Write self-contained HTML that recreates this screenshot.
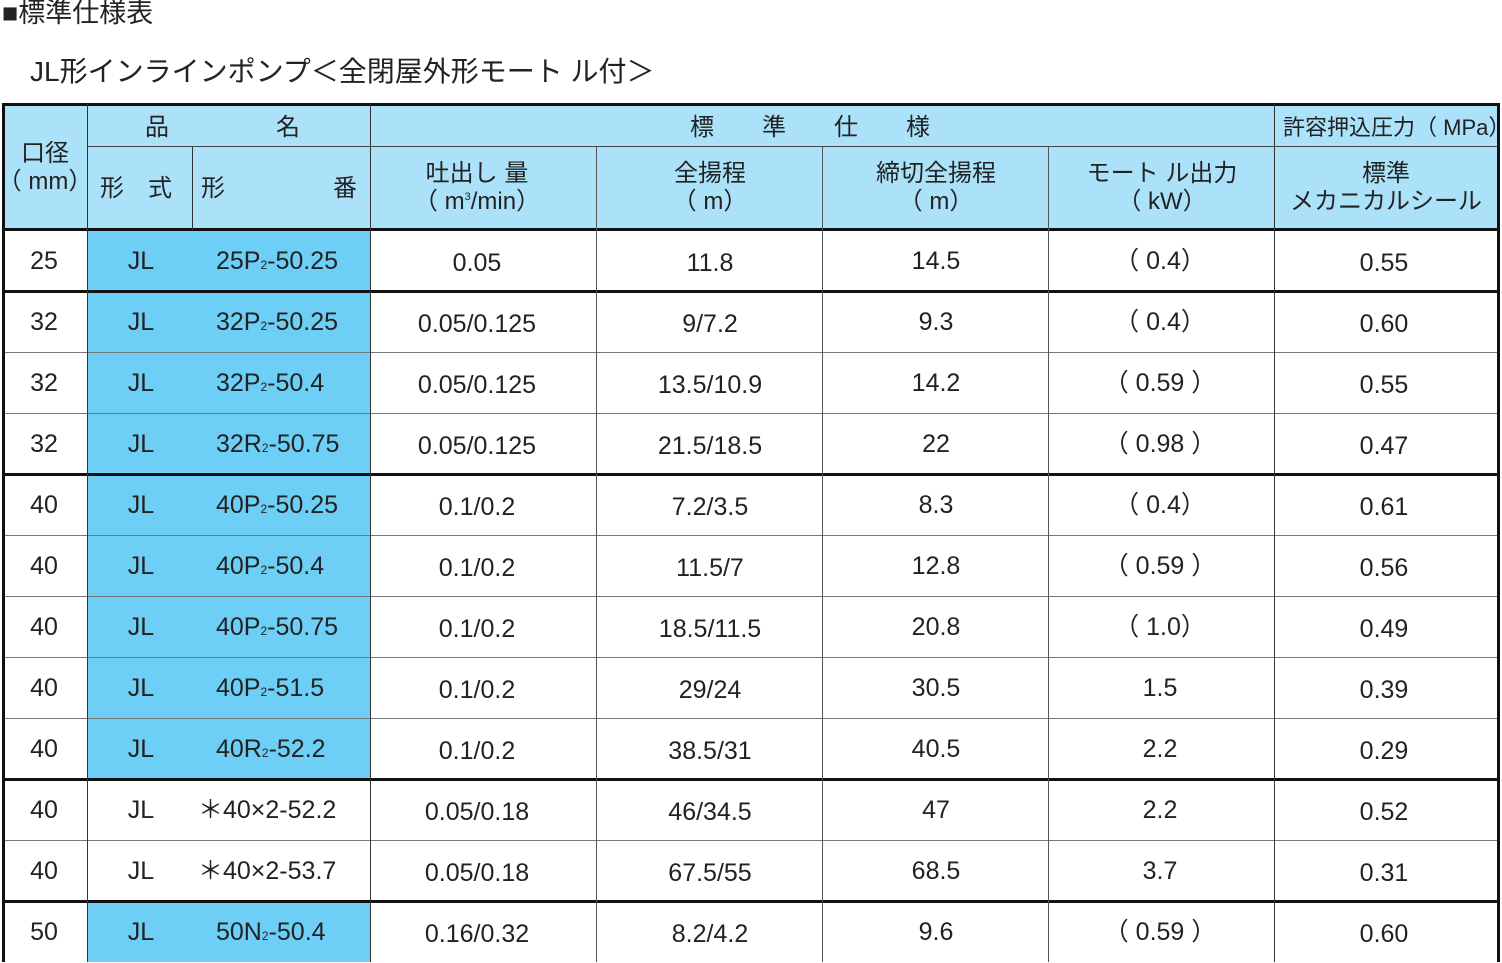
<!DOCTYPE html>
<html><head><meta charset="utf-8"><style>
body{margin:0;width:1502px;height:963px;background:#fff;position:relative;overflow:hidden;font-family:"Liberation Sans Narrow","Liberation Sans","Noto Sans CJK JP",sans-serif;color:#222}
.a{position:absolute;box-sizing:border-box}
.t{position:absolute;white-space:nowrap;font-size:25px;line-height:1}
.h{font-family:"Liberation Sans","Noto Sans CJK JP",sans-serif;font-size:24px}
.vl{position:absolute;background:#555;width:1px}
.hl{position:absolute;background:#777;height:1px}
.thick{background:#111;height:3px}
sub{font-size:12px;vertical-align:baseline}
</style></head><body>
<div class="t h" style="left:2px;top:0px;font-size:27px">■標準仕様表</div>
<div class="t h" style="left:30px;top:58px;font-size:28px">JL形インラインポンプ＜全閉屋外形モート ル付＞</div>
<div class="a" style="left:2px;top:104px;width:1497px;height:126px;background:#abe1f9"></div>
<div id="tbl"></div>
<script>
const bores=["25","32","32","32","40","40","40","40","40","40","40","50"];
const types=["JL","JL","JL","JL","JL","JL","JL","JL","JL","JL","JL","JL"];
const models=["25P<sub>2</sub>-50.25","32P<sub>2</sub>-50.25","32P<sub>2</sub>-50.4","32R<sub>2</sub>-50.75","40P<sub>2</sub>-50.25","40P<sub>2</sub>-50.4","40P<sub>2</sub>-50.75","40P<sub>2</sub>-51.5","40R<sub>2</sub>-52.2","＊40×2-52.2","＊40×2-53.7","50N<sub>2</sub>-50.4"];
const flows=["0.05","0.05/0.125","0.05/0.125","0.05/0.125","0.1/0.2","0.1/0.2","0.1/0.2","0.1/0.2","0.1/0.2","0.05/0.18","0.05/0.18","0.16/0.32"];
const heads=["11.8","9/7.2","13.5/10.9","21.5/18.5","7.2/3.5","11.5/7","18.5/11.5","29/24","38.5/31","46/34.5","67.5/55","8.2/4.2"];
const shutoff=["14.5","9.3","14.2","22","8.3","12.8","20.8","30.5","40.5","47","68.5","9.6"];
const motor=["（ 0.4）","（ 0.4）","（ 0.59 ）","（ 0.98 ）","（ 0.4）","（ 0.59 ）","（ 1.0）","1.5","2.2","2.2","3.7","（ 0.59 ）"];
const pressure=["0.55","0.60","0.55","0.47","0.61","0.56","0.49","0.39","0.29","0.52","0.31","0.60"];
const blue=[1,1,1,1,1,1,1,1,1,0,0,1];
const thickAfter=[0,3,8,10];
const T=document.getElementById('tbl');
function add(cls,style,html,name){const d=document.createElement('div');d.className=cls;d.style.cssText=style;if(html!==undefined)d.innerHTML=html;


T.appendChild(d);return d;}
const top0=230,rh=61;
// header text
function ht(x,y,txt,name,fs){add('t h','left:'+x+'px;top:'+y+'px;transform:translateX(-50%);text-align:center;'+(fs?'font-size:'+fs+'px;':''),txt,name);}
ht(45,142,'口径','header-bore');ht(45,170,'（ mm）','header-bore-unit');
add('t h','left:145px;top:116px','品','header-name');add('t h','left:276px;top:116px','名','header-name2');
add('t h','left:100px;top:177px','形　式','header-type');add('t h','left:201px;top:177px','形','header-model');add('t h','left:333px;top:177px','番','header-model2');
add('t h','left:690px;top:116px;letter-spacing:0','標　　準　　仕　　様','header-spec');
add('t h','left:1283px;top:117px;font-size:22px','許容押込圧力（ MPa）','header-pressure');
ht(477,162,'吐出し 量','header-flow');ht(477,190,'（ m<sup style="font-size:11px">3</sup>/min）','header-flow-unit');
ht(710,162,'全揚程','header-head');ht(710,190,'（ m）','header-head-unit');
ht(936,162,'締切全揚程','header-shutoff');ht(936,190,'（ m）','header-shutoff-unit');
ht(1162,162,'モート ル出力','header-motor');ht(1162,190,'（ kW）','header-motor-unit');
ht(1386,162,'標準','header-seal');ht(1386,190,'メカニカルシール','header-seal2');
const cx=[477,710,936,1160,1384];
for(let i=0;i<bores.length;i++){
 const y=top0+i*rh;
 if(blue[i]) add('a','left:87px;top:'+y+'px;width:283px;height:'+rh+'px;background:#6dcff6','', 'model-cell-bg');
 const ty=y+19;
 add('t','left:44px;top:'+ty+'px;transform:translateX(-50%)',bores[i],'bore-cell');
 add('t','left:141px;top:'+ty+'px;transform:translateX(-50%)',types[i],'type-cell');
 add('t','left:'+(blue[i]?216:198)+'px;top:'+ty+'px',models[i],'model-cell');
 const vals=[flows[i],heads[i],shutoff[i],motor[i],pressure[i]];
 const nm=['flow-cell','head-cell','shutoff-cell','motor-cell','pressure-cell'];
 for(let j=0;j<5;j++) add('t','left:'+cx[j]+'px;top:'+(ty+(j==0||j==1||j==4?2:0))+'px;transform:translateX(-50%)',vals[j],nm[j]);
}
// grid lines
const n=bores.length,bottom=top0+n*rh;
add('hl','left:87px;top:146px;width:1412px;background:#444','', 'grid-line');
add('hl','left:370px;top:146px;width:1129px;background:#444','', 'grid-line');
for(let i=1;i<n;i++){const th=thickAfter.indexOf(i-1)>=0;
 add('hl'+(th?' thick':''),'left:2px;top:'+(top0+i*rh-(th?1:0))+'px;width:1497px','','row-line');}
add('hl thick','left:2px;top:228px;width:1497px','','header-bottom-line');
add('hl thick','left:2px;top:103px;width:1497px','','table-top-line');
add('vl','left:2px;top:103px;height:'+(bottom-103)+'px;width:3px;background:#111','','table-left-line');
add('vl','left:1497px;top:103px;height:'+(bottom-103)+'px;width:3px;background:#111','','table-right-line');
[87,370,1274].forEach(x=>add('vl','left:'+x+'px;top:104px;height:'+(bottom-104)+'px;background:#333','','col-line'));
[596,822,1048].forEach(x=>add('vl','left:'+x+'px;top:147px;height:'+(bottom-147)+'px','','col-line'));
add('vl','left:192px;top:147px;height:83px;background:#333','','col-line');
</script>
</body></html>
